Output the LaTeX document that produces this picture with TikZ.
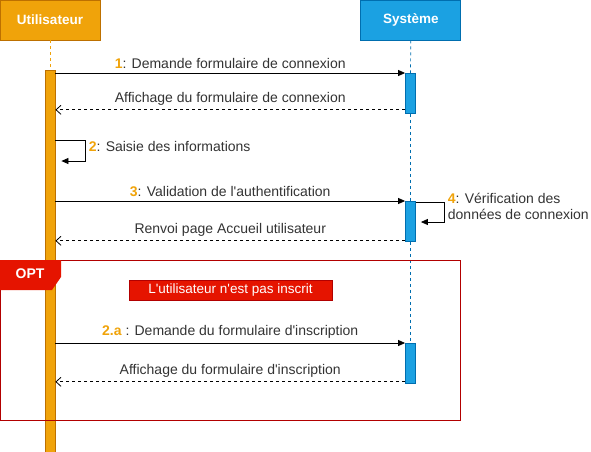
\documentclass[tikz,border=0pt]{standalone}
\usepackage{fontspec}
\setmainfont{Liberation Sans}
\usepackage{tikz}
\usetikzlibrary{arrows.meta, positioning}

\definecolor{userFill}{HTML}{F0A30A}
\definecolor{userLine}{HTML}{BD7000}
\definecolor{sysFill}{HTML}{1BA1E2}
\definecolor{sysLine}{HTML}{006EAF}
\definecolor{optFill}{HTML}{E51400}
\definecolor{optLine}{HTML}{B20000}
\definecolor{labelGrey}{HTML}{333333}

\newcommand{\num}[1]{\textcolor{userFill}{\bfseries #1}}

\begin{document}
\begin{tikzpicture}[
    x=1pt, y=-1pt,
    font=\fontsize{14}{16}\selectfont,
    line width=0.8pt,
    header/.style={draw, minimum width=100pt, minimum height=40pt, inner sep=0pt,
        text=white, font=\fontsize{13.5}{16}\selectfont\bfseries},
    bar/.style={draw, minimum width=10pt, inner sep=0pt, anchor=north},
    lifeline/.style={dash pattern=on 3pt off 3pt, line width=0.7pt},
    msg/.style={->, >={Triangle[length=7pt, width=6pt]}},
    reply/.style={->, >={Straight Barb[length=5pt, width=9pt]}, dash pattern=on 3pt off 3pt},
    lbl/.style={text=labelGrey, inner sep=1.5pt}
]
\useasboundingbox (0,0) rectangle (591,451);

% actors
\node (user) [header, fill=userFill, draw=userLine] at (50,20) {Utilisateur};
\node (sys) [header, fill=sysFill, draw=sysLine, right=260pt of user] {Système};

% lifelines
\node (userbar) [bar, fill=userFill, draw=userLine, minimum height=384pt] at (50,70) {};
\node (sysbar1) [bar, fill=sysFill, draw=sysLine, minimum height=40pt] at (410.5,73) {};
\node (sysbar2) [bar, fill=sysFill, draw=sysLine, minimum height=40pt] at (410.5,201) {};
\node (sysbar3) [bar, fill=sysFill, draw=sysLine, minimum height=40pt] at (410.5,343) {};
\draw[lifeline, userFill] (user.south) -- (userbar.north);
\draw[lifeline, sysLine] (sys.south) -- (sysbar1.north);
\draw[lifeline, sysLine] (sysbar1.south) -- (sysbar2.north);
\draw[lifeline, sysLine] (sysbar2.south) -- (sysbar3.north);

% reply start points
\coordinate (r1s) at ([yshift=4pt]sysbar1.south west);
\coordinate (r3s) at ([yshift=1pt]sysbar2.south west);
\coordinate (r2as) at ([yshift=2pt]sysbar3.south west);

% connexion
\draw[msg] (userbar.east |- sysbar1.north west) -- (sysbar1.north west)
    node[lbl, above=2.5pt, midway] (m1) {\num{1}: Demande formulaire de connexion};
\draw[reply] (r1s) -- (userbar.east |- r1s)
    node[lbl, above=2.5pt, midway] (r1) {Affichage du formulaire de connexion};

% self call 2
\coordinate (s2a) at (85,140);
\coordinate (s2b) at (85,161);
\draw[msg] (userbar.east |- s2a) -- (s2a) -- (s2b) -- ([xshift=6pt]userbar.east |- s2b);
\node (m2) [lbl, anchor=west] at (87,146) {\num{2}: Saisie des informations};

% authentification
\draw[msg] (userbar.east |- sysbar2.north west) -- (sysbar2.north west)
    node[lbl, above=2.5pt, midway] (m3) {\num{3}: Validation de l\textquotesingle authentification};
\draw[reply] (r3s) -- (userbar.east |- r3s)
    node[lbl, above=2.5pt, midway] (r3) {Renvoi page Accueil utilisateur};

% self call 4
\coordinate (s4a) at (444,202);
\coordinate (s4b) at (444,222);
\draw[msg] (sysbar2.east |- s4a) -- (s4a) -- (s4b) -- ([xshift=5pt]sysbar2.east |- s4b);
\node (m4) [lbl, anchor=north west, align=left, font=\fontsize{14}{16}\selectfont] at (446,191)
    {\num{4}: Vérification des\\données de connexion};

% opt frame
\node (opt) [draw=optLine, minimum width=460pt, minimum height=160pt, anchor=north west] at (0,260) {};
\fill[optFill] (opt.north west) -- ++(61,0) -- ++(0,17) -- ++(-9,13) -- ++(-52,0) -- cycle;
\node (optname) [text=white, font=\fontsize{14}{16}\selectfont\bfseries] at (30,274) {OPT};
\node (guard) [fill=optFill, draw=optLine, text=white, minimum width=203pt, minimum height=20pt, inner sep=0pt,
    font=\fontsize{13.5}{16}\selectfont] at (230.5,290) {L\textquotesingle utilisateur n\textquotesingle est pas inscrit};

% inscription
\draw[msg] (userbar.east |- sysbar3.north west) -- (sysbar3.north west)
    node[lbl, above=2.5pt, midway] (m2a) {\num{2.a} : Demande du formulaire d\textquotesingle inscription};
\draw[reply] (r2as) -- (userbar.east |- r2as)
    node[lbl, above=2.5pt, midway] (r2a) {Affichage du formulaire d\textquotesingle inscription};

\end{tikzpicture}
\end{document}
